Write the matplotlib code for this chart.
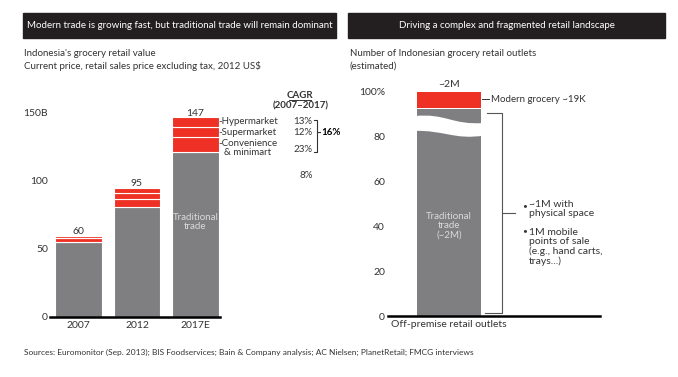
import matplotlib
matplotlib.use("Agg")
import matplotlib.pyplot as plt
from matplotlib.patches import Rectangle, PathPatch
from matplotlib.path import Path

plt.rcParams['font.family'] = ['Lato', 'DejaVu Sans']

# ---- data ----
years = ["2007", "2012", "2017E"]
traditional = [55, 81, 121]
convenience = [3, 5.5, 11]
supermarket = [1.2, 4.5, 8]
hypermarket = [0.8, 4, 7]
totals = [60, 95, 147]
segment_names = ["Hypermarket", "Supermarket", "Convenience\n  & minimart"]
cagr_modern_segments = ["13%", "12%", "23%"]
cagr_modern = "16%"
cagr_traditional = "8%"

outlet_category = ["Off-premise retail outlets"]
outlet_traditional = [92.5]
outlet_modern = [7]
outlet_bullets = ["~1M with\nphysical space",
                  "1M mobile\npoints of sale\n(e.g., hand carts,\ntrays...)"]

RED = "#EE3124"
GREY = "#7F7F82"
DARK = "#231F20"
TXT = "#333333"

W, H = 678, 377
fig = plt.figure(figsize=(W / 100, H / 100), dpi=100)


def fx(x):
    return x / W


def fy(y):
    return 1 - y / H


# title bars
for x0, x1, label in [(23, 336, "Modern trade is growing fast, but traditional trade will remain dominant"),
                      (348, 665, "Driving a complex and fragmented retail landscape")]:
    fig.patches.append(Rectangle((fx(x0), fy(38)), fx(x1 - x0), 25 / H,
                                 transform=fig.transFigure, color=DARK, zorder=0))
    fig.text(fx((x0 + x1) / 2), fy(25.5), label, color="white", fontsize=7.0,
             ha="center", va="center")

fig.text(fx(24), fy(53), "Indonesia's grocery retail value", fontsize=7.0, color=TXT, va="center")
fig.text(fx(24), fy(66), "Current price, retail sales price excluding tax, 2012 US$", fontsize=7.0,
         color=TXT, va="center")
fig.text(fx(350), fy(53), "Number of Indonesian grocery retail outlets", fontsize=7.0, color=TXT,
         va="center")
fig.text(fx(350), fy(66), "(estimated)", fontsize=7.0, color=TXT, va="center")
fig.text(fx(24), fy(352), "Sources: Euromonitor (Sep. 2013); BIS Foodservices; Bain & Company analysis; "
         "AC Nielsen; PlanetRetail; FMCG interviews", fontsize=6.0, color=TXT, va="center")

# ---- left chart ----
ax = fig.add_axes([fx(50), 60 / H, 170 / W, 204 / H])
x = range(len(years))
ax.bar(x, traditional, width=0.8, color=GREY, edgecolor="white", linewidth=0.8)
bottom2 = [t + c for t, c in zip(traditional, convenience)]
bottom3 = [b + s for b, s in zip(bottom2, supermarket)]
ax.bar(x, convenience, bottom=traditional, width=0.8, color=RED, edgecolor="white", linewidth=0.8)
ax.bar(x, supermarket, bottom=bottom2, width=0.8, color=RED, edgecolor="white", linewidth=0.8)
ax.bar(x, hypermarket, bottom=bottom3, width=0.8, color=RED, edgecolor="white", linewidth=0.8)

for i, t in enumerate(totals):
    ax.text(i, t + 3, str(t), ha="center", va="center", fontsize=7.5, color=TXT)

ax.text(2, 70, "Traditional\ntrade", ha="center", va="center", fontsize=7,
        color="#DADADA", linespacing=1.05)

# segment labels for last bar
last = len(years) - 1
mids = [bottom3[last] + hypermarket[last] / 2,
        bottom2[last] + supermarket[last] / 2,
        traditional[last] + convenience[last] / 2 - 2]
for name, m in zip(segment_names, mids):
    ax.text(2.4, m, "-" + name, ha="left", va="center", fontsize=7, color=TXT,
            linespacing=0.95, clip_on=False)
y_pct = [mids[0], mids[1], mids[2] - 1]
for yp, pct in zip(y_pct, cagr_modern_segments):
    ax.text(4.0, yp, pct, ha="right", va="center", fontsize=7, color=TXT, clip_on=False)
ax.text(4.0, 104, cagr_traditional, ha="right", va="center", fontsize=7, color=TXT, clip_on=False)

# bracket
bx = 4.08
ax.plot([4.02, bx, bx, 4.02], [145, 145, 121, 121], color=TXT, lw=0.8, clip_on=False)
ax.plot([bx, 4.13], [mids[1], mids[1]], color=TXT, lw=0.8, clip_on=False)
ax.text(4.15, mids[1], cagr_modern, ha="left", va="center", fontsize=7, color="black",
        fontweight="bold", clip_on=False)

ax.text(3.79, 163, "CAGR", ha="center", va="center", fontsize=7, fontweight="bold",
        color=TXT, clip_on=False)
ax.plot([3.6, 3.97], [159.5, 159.5], color=TXT, lw=0.7, clip_on=False)
ax.text(3.79, 155, "(2007–2017)", ha="center", va="center", fontsize=7, fontweight="bold",
        color=TXT, clip_on=False)

ax.set_xlim(-0.487, 2.419)
ax.set_ylim(0, 150)
ax.set_yticks([0, 50, 100, 150])
ax.set_yticklabels(["0", "50", "100", "150B"])
ax.set_xticks(list(x))
ax.set_xticklabels(years)
ax.tick_params(length=0, labelsize=7.5, labelcolor=TXT)
ax.tick_params(axis="y", pad=1.5)
ax.tick_params(axis="x", pad=3)
for s in ["top", "right", "left"]:
    ax.spines[s].set_visible(False)
ax.spines["bottom"].set_linewidth(1.8)
ax.spines["bottom"].set_color("black")
ax.set_facecolor("none")

# ---- right chart ----
ax2 = fig.add_axes([fx(388), 61 / H, 212 / W, 224 / H])
ax2.bar([0], outlet_traditional, width=1, color=GREY, linewidth=0)
ax2.bar([0], outlet_modern, bottom=[100 - outlet_modern[0]], width=1, color=RED, linewidth=0)

# break mark across the bar
verts = [(-0.55, 89.2), (-0.05, 90.8), (0.05, 85.0), (0.55, 86.2),
         (0.55, 80.6), (0.1, 78.4), (-0.1, 83.2), (-0.55, 82.6), (-0.55, 89.2)]
codes = [Path.MOVETO, Path.CURVE4, Path.CURVE4, Path.CURVE4,
         Path.LINETO, Path.CURVE4, Path.CURVE4, Path.CURVE4, Path.CLOSEPOLY]
ax2.add_patch(PathPatch(Path(verts, codes), facecolor="white", edgecolor="none", zorder=3))

ax2.text(0, 103.2, "~2M", ha="center", va="center", fontsize=7.5, color=TXT, clip_on=False)
ax2.plot([0.52, 0.63], [96.8, 96.8], color=TXT, lw=0.7)
ax2.text(0.65, 96.8, "Modern grocery ~19K", ha="left", va="center", fontsize=7.0, color=TXT)
ax2.text(0, 40.2, "Traditional\ntrade\n(~2M)", ha="center", va="center", fontsize=7,
         color="#DADADA", linespacing=1.05)

# bracket
rx = 0.83
ax2.plot([0.6, rx, rx, 0.56], [90.6, 90.6, 1.3, 1.3], color="#555555", lw=0.8)
ax2.plot([rx, 1.03], [46, 46], color="#555555", lw=0.8)
ax2.text(1.14, 49.5, "•", ha="left", va="center", fontsize=6, color=TXT)
ax2.text(1.25, 47.8, outlet_bullets[0], ha="left", va="center", fontsize=7.5, color=TXT,
         linespacing=1.0)
ax2.text(1.14, 38.0, "•", ha="left", va="center", fontsize=6, color=TXT)
ax2.text(1.25, 30.8, outlet_bullets[1], ha="left", va="center", fontsize=7.5, color=TXT,
         linespacing=1.0)

ax2.set_xlim(-0.953, 2.36)
ax2.set_ylim(0, 100)
ax2.set_yticks([0, 20, 40, 60, 80, 100])
ax2.set_yticklabels(["0", "20", "40", "60", "80", "100%"])
ax2.set_xticks([0])
ax2.set_xticklabels(outlet_category)
ax2.tick_params(length=0, labelsize=7.5, labelcolor=TXT)
ax2.tick_params(axis="y", pad=2.2)
ax2.tick_params(axis="x", pad=3)
for s in ["top", "right", "left"]:
    ax2.spines[s].set_visible(False)
ax2.spines["bottom"].set_linewidth(1.8)
ax2.spines["bottom"].set_color("black")
ax2.set_facecolor("none")

fig.savefig("out.png", dpi=100)
